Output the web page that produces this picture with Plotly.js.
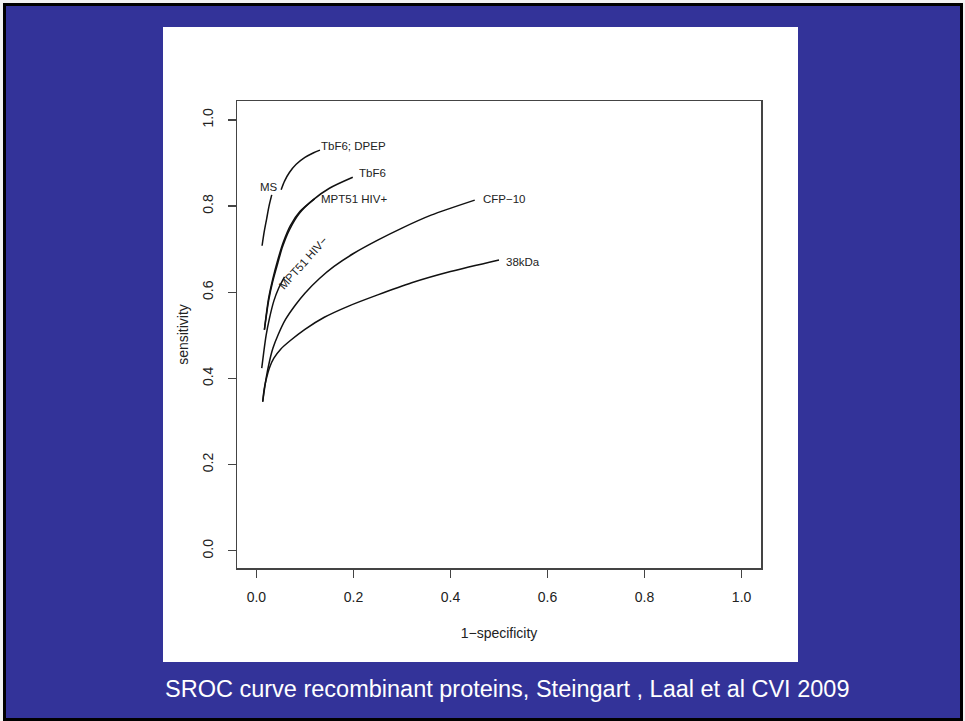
<!DOCTYPE html>
<html>
<head>
<meta charset="utf-8">
<script src="https://cdn.plot.ly/plotly-3.0.1.min.js"></script>
<style>
  html, body { margin: 0; padding: 0; background: #ffffff; }
  #chart { width: 965px; height: 721px; }
</style>
</head>
<body>
<div id="chart"></div>
<script>
// ---- data ----
const curveNames = ["MS", "TbF6; DPEP", "TbF6", "MPT51 HIV+", "MPT51 HIV−", "CFP−10", "38kDa"];

const msX = [0.0117, 0.016, 0.021, 0.026, 0.0316];
const msY = [0.708, 0.740, 0.770, 0.800, 0.826];

const dpepX = [0.051, 0.058, 0.068, 0.082, 0.100, 0.118, 0.131];
const dpepY = [0.838, 0.858, 0.878, 0.897, 0.913, 0.924, 0.930];

const tbf6X = [0.0165, 0.0254, 0.0336, 0.044, 0.054, 0.068, 0.0887, 0.116, 0.1505, 0.1986];
const tbf6Y = [0.513, 0.582, 0.625, 0.6675, 0.706, 0.745, 0.7835, 0.814, 0.8415, 0.867];

const hivPosX = [0.0165, 0.025, 0.034, 0.044, 0.055, 0.070, 0.090, 0.120];
const hivPosY = [0.513, 0.585, 0.632, 0.675, 0.715, 0.755, 0.788, 0.817];

const hivNegX = [0.011, 0.015, 0.020, 0.027, 0.036, 0.046, 0.058];
const hivNegY = [0.424, 0.460, 0.500, 0.540, 0.580, 0.610, 0.636];

const cfpX = [0.013, 0.020, 0.027, 0.034, 0.045, 0.060, 0.080, 0.100, 0.130, 0.160, 0.200, 0.250, 0.300, 0.360, 0.450];
const cfpY = [0.346, 0.400, 0.440, 0.470, 0.502, 0.537, 0.570, 0.598, 0.632, 0.660, 0.690, 0.721, 0.749, 0.779, 0.814];

const kdaX = [0.013, 0.016, 0.020, 0.027, 0.036, 0.050, 0.070, 0.100, 0.140, 0.190, 0.250, 0.320, 0.400, 0.500];
const kdaY = [0.346, 0.375, 0.397, 0.425, 0.447, 0.468, 0.488, 0.514, 0.542, 0.568, 0.594, 0.622, 0.648, 0.675];

// label anchor points (data coords)
const labelX = [0.025, 0.130, 0.208, 0.130, 0.096, 0.462, 0.511];
const labelY = [0.845, 0.940, 0.877, 0.817, 0.668, 0.817, 0.670];

const tickVals = [0, 0.2, 0.4, 0.6, 0.8, 1.0];
const tickText = ["0.0", "0.2", "0.4", "0.6", "0.8", "1.0"];

const xTitle = "1−specificity";
const yTitle = "sensitivity";
const caption = "SROC curve recombinant proteins, Steingart , Laal et al CVI 2009";

// ---- layout geometry (pixels) ----
const W = 965, H = 721;
const L = 237, R = 761, T = 101, B = 568;
const px = v => (v - L) / (R - L);
const py = v => (B - v) / (B - T);

const seriesX = [msX, dpepX, tbf6X, hivPosX, hivNegX, cfpX, kdaX];
const seriesY = [msY, dpepY, tbf6Y, hivPosY, hivNegY, cfpY, kdaY];

const traces = seriesX.map((xs, i) => ({
  x: xs, y: seriesY[i], type: "scatter", mode: "lines", name: curveNames[i],
  line: { color: "#111111", width: 1.5, shape: "spline", smoothing: 0.8 },
  hoverinfo: "skip", showlegend: false
}));

const FONT = "Liberation Sans, Arial, Helvetica, sans-serif";

const labelAnchor = ["center", "left", "left", "left", "center", "left", "left"];
const labelAngle = [0, 0, 0, 0, -48, 0, 0];

const annotations = curveNames.map((n, i) => ({
  x: labelX[i], y: labelY[i], xref: "x", yref: "y", text: n, showarrow: false,
  xanchor: labelAnchor[i], yanchor: "middle", textangle: labelAngle[i],
  font: { family: FONT, size: 11.5, color: "#222222" }
}));

annotations.push({
  x: px(163), y: py(689), xref: "paper", yref: "paper", text: caption,
  showarrow: false, xanchor: "left", yanchor: "middle",
  font: { family: FONT, size: 23.5, color: "#ffffff" }
});

const shapes = [
  { type: "rect", xref: "paper", yref: "paper", layer: "below",
    x0: px(4.5), x1: px(961.5), y0: py(719.5), y1: py(4.5),
    fillcolor: "#333399", line: { color: "#000000", width: 3 } },
  { type: "rect", xref: "paper", yref: "paper", layer: "below",
    x0: px(163), x1: px(798), y0: py(662), y1: py(27),
    fillcolor: "#ffffff", line: { width: 0 } }
];

const axisCommon = {
  showgrid: false, zeroline: false, showline: true, mirror: true,
  linecolor: "#444444", linewidth: 1.5,
  ticks: "outside", ticklen: 8, tickwidth: 1.3, tickcolor: "#444444",
  tickvals: tickVals, ticktext: tickText,
  tickfont: { family: FONT, size: 14, color: "#222222" },
  fixedrange: true
};

const layout = {
  width: W, height: H,
  margin: { l: L, r: W - R, t: T, b: H - B, pad: 0 },
  paper_bgcolor: "#f2f2f2",
  plot_bgcolor: "#ffffff",
  showlegend: false,
  xaxis: Object.assign({}, axisCommon, {
    range: [-0.04, 1.04],
    ticklabelstandoff: 8,
    title: { text: xTitle, font: { family: FONT, size: 14, color: "#222222" }, standoff: 24 }
  }),
  yaxis: Object.assign({}, axisCommon, {
    range: [-0.04, 1.044],
    tickangle: -90,
    ticklabelstandoff: 9,
    title: { text: yTitle, font: { family: FONT, size: 14, color: "#222222" }, standoff: 8 }
  }),
  annotations: annotations,
  shapes: shapes
};

Plotly.newPlot("chart", traces, layout, { staticPlot: true, displayModeBar: false });
</script>
</body>
</html>
